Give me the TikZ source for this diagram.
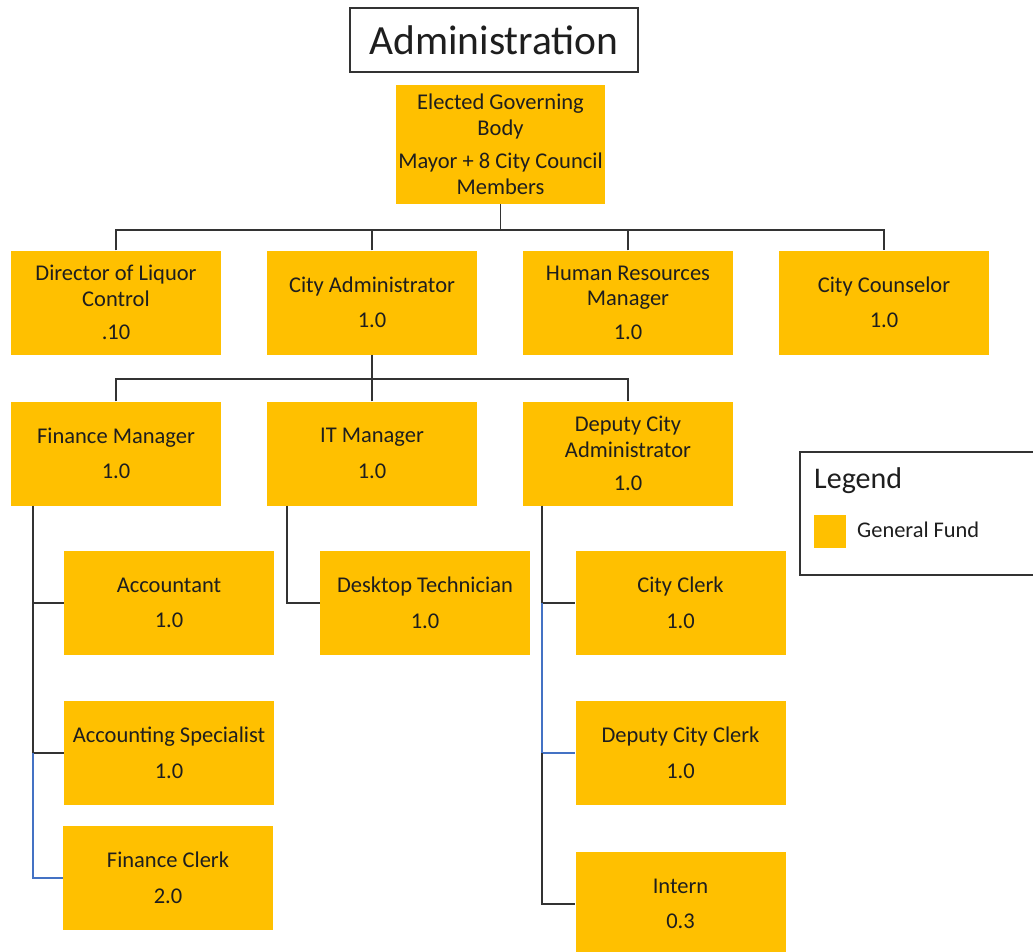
\documentclass[tikz,border=0pt]{standalone}
\usepackage{fontspec}
\setmainfont{Carlito}
\usetikzlibrary{calc}
\definecolor{fundgold}{HTML}{FFC000}
\definecolor{linegray}{HTML}{333333}
\definecolor{linkblue}{HTML}{4472C4}
\definecolor{inkdark}{HTML}{1E1E1E}
\begin{document}
\begin{tikzpicture}[x=1pt,y=-1pt,
  unit/.style={fill=fundgold, draw=none, minimum width=210pt, minimum height=104pt,
    inner sep=0pt, align=center, text=inkdark, font=\fontsize{22.5}{25.5}\selectfont},
  conn/.style={draw=linegray, line width=1.9pt},
  blueconn/.style={draw=linkblue, line width=1.4pt},
  framebox/.style={draw=linegray, line width=1.9pt, fill=white}]
\clip (0,0) rectangle (1033,952);
\fill[white] (0,0) rectangle (1033,952);

% heading
\node[framebox, minimum width=288pt, minimum height=64pt, inner sep=0pt,
  font=\fontsize{41.5}{48}\selectfont, text=inkdark] (title) at (494,40) {Administration};

% top level
\node[unit, minimum width=209pt, minimum height=119pt] (egb) at (500.5,144.5)
  {Elected Governing\\Body\\[8pt]Mayor + 8 City Council\\Members};

% second row
\node[unit] (dlc) at (116,302.5) {Director of Liquor\\Control\\[8pt].10};
\node[unit] (ca)  at (372,302.5) {City Administrator\\[10pt]1.0};
\node[unit] (hr)  at (628,302.5) {Human Resources\\Manager\\[8pt]1.0};
\node[unit] (csl) at (884,302.5) {City Counselor\\[10pt]1.0};

% third row
\node[unit] (fm)  at (116,453.5) {Finance Manager\\[10pt]1.0};
\node[unit] (it)  at (372,453.5) {IT Manager\\[10pt]1.0};
\node[unit] (dca) at (628,453.5) {Deputy City\\Administrator\\[8pt]1.0};

% finance staff
\node[unit] (acc)    at (169,603) {Accountant\\[10pt]1.0};
\node[unit] (accsp)  at (169,753) {Accounting Specialist\\[10pt]1.0};
\node[unit] (fclerk) at (168,878) {Finance Clerk\\[10pt]2.0};

% IT staff
\node[unit] (dt) at (425,603) {Desktop Technician\\[10pt]1.0};

% deputy administrator staff
\node[unit] (cclerk)  at (680.5,603) {City Clerk\\[10pt]1.0};
\node[unit] (dcclerk) at (680.5,753) {Deputy City Clerk\\[10pt]1.0};
\node[unit] (intern)  at (680.5,904) {Intern\\[10pt]0.3};

% legend
\node[framebox, minimum width=240pt, minimum height=123pt, inner sep=0pt] (legend) at (920,513.5) {};
\node[anchor=base west, inner sep=0pt, font=\fontsize{30}{34}\selectfont, text=inkdark] (legtitle) at (814,488) {Legend};
\node[fill=fundgold, minimum width=32pt, minimum height=33pt, inner sep=0pt] (swatch) at (830,531.5) {};
\node[anchor=west, inner sep=0pt, font=\fontsize{22.4}{26}\selectfont, text=inkdark] (legtext) at (857,530) {General Fund};

% connectors: governing body to second row
\draw[conn] (egb.south) -- ++(0,26) coordinate (bus1);
\draw[conn] (dlc.north) -- (dlc.north |- bus1) -- (csl.north |- bus1) -- (csl.north);
\draw[conn] (ca.north) -- (ca.north |- bus1);
\draw[conn] (hr.north) -- (hr.north |- bus1);

% connectors: city administrator to third row
\draw[conn] (ca.south) -- ++(0,24) coordinate (bus2);
\draw[conn] (fm.north) -- (fm.north |- bus2) -- (dca.north |- bus2) -- (dca.north);
\draw[conn] (it.north) -- (it.north |- bus2);

% finance manager spine
\coordinate (fspine) at ($(fm.south west)+(22,0)$);
\draw[conn] (fspine) |- (accsp.west);
\draw[conn] (fspine |- acc.west) -- (acc.west);
\draw[blueconn] (fspine |- accsp.west) |- (fclerk.west);

% IT manager spine
\coordinate (ispine) at ($(it.south west)+(20,0)$);
\draw[conn] (ispine) |- (dt.west);

% deputy administrator spine
\coordinate (dspine) at ($(dca.south west)+(19,0)$);
\draw[conn] (dspine) |- (cclerk.west);
\draw[blueconn] (dspine |- cclerk.west) |- (dcclerk.west);
\draw[conn] (dspine |- dcclerk.west) |- (intern.west);
\end{tikzpicture}
\end{document}
